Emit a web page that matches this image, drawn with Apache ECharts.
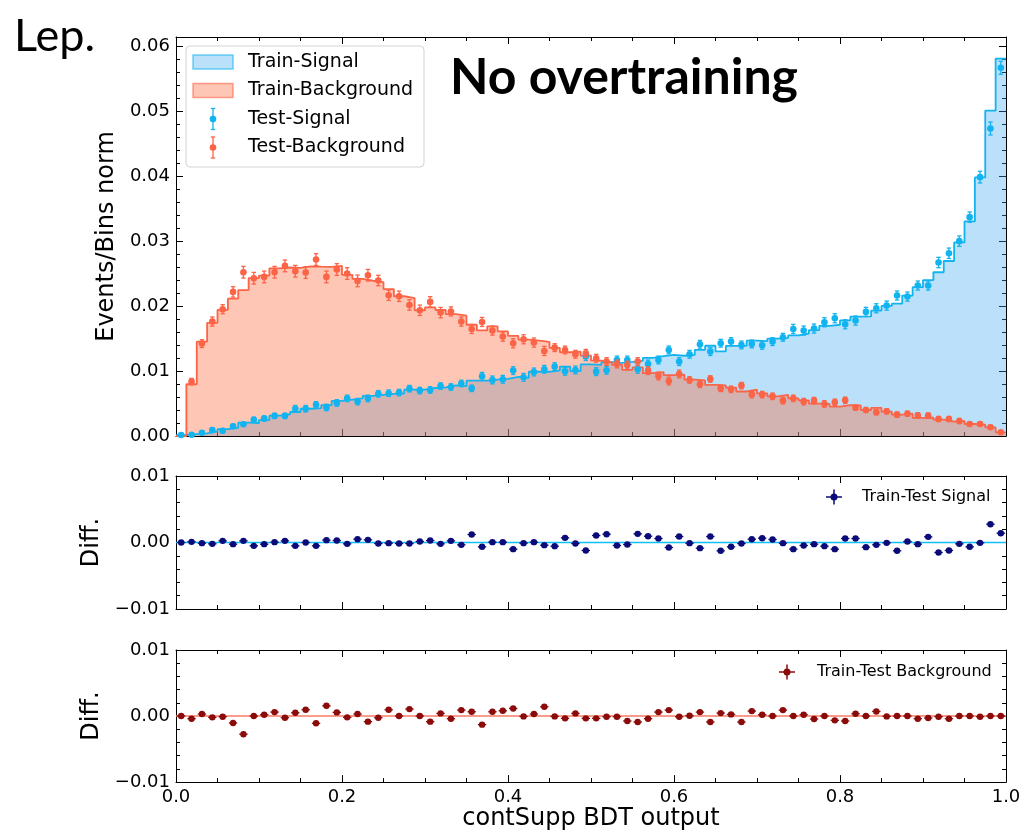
<!DOCTYPE html>
<html>
<head>
    <meta charset="utf-8">
    <title>contSupp BDT output - overtraining check</title>
    <script src="https://cdn.jsdelivr.net/npm/echarts@6/dist/echarts.min.js"></script>
    <style>
        html, body { margin: 0; padding: 0; background: #fff; }
        #chart { width: 1024px; height: 832px; }
    </style>
</head>
<body>
<div id="chart"></div>
<script>
    // 80 bins on [0, 1]
    var nBins = 80;
    var binW = 1 / nBins;

    var trainSig = [0.00015, 0.0003, 0.0004, 0.0007, 0.00105, 0.00125, 0.00205, 0.0020, 0.00245, 0.00315,
        0.00335, 0.0037, 0.0042, 0.0043, 0.00475, 0.0054, 0.0056, 0.0058, 0.0062, 0.00635,
        0.0065, 0.00655, 0.00715, 0.00715, 0.0074, 0.0075, 0.0078, 0.0077, 0.00855, 0.00855,
        0.0087, 0.0088, 0.0091, 0.00895, 0.0099, 0.0099, 0.0101, 0.0107, 0.0100, 0.01104,
        0.01097, 0.01138, 0.01127, 0.01142, 0.01158, 0.01205, 0.01232, 0.01251, 0.01237, 0.0125,
        0.01329, 0.01391, 0.01305, 0.0139, 0.01389, 0.01469, 0.01463, 0.015, 0.01512, 0.0155,
        0.0158, 0.01631, 0.01698, 0.01715, 0.01782, 0.01839, 0.01843, 0.01934, 0.02005, 0.0204,
        0.02164, 0.02294, 0.02404, 0.02524, 0.02697, 0.02983, 0.03308, 0.03985, 0.05015, 0.05816];

    var testSig = [0.00015, 0.0002, 0.0005, 0.0009, 0.0008, 0.0015, 0.0018, 0.0025, 0.0027, 0.0031,
        0.0031, 0.0042, 0.0042, 0.0048, 0.0044, 0.0051, 0.0058, 0.0053, 0.0058, 0.0065,
        0.0066, 0.0067, 0.0073, 0.0070, 0.0071, 0.0077, 0.00755, 0.0081, 0.00735, 0.0092,
        0.00864, 0.00874, 0.01008, 0.00905, 0.00987, 0.01028, 0.01069, 0.00997, 0.01018, 0.01224,
        0.00992, 0.01013, 0.01172, 0.01172, 0.01028, 0.0111, 0.01172, 0.01326, 0.01147, 0.0126,
        0.01414, 0.01301, 0.0143, 0.01455, 0.01404, 0.01419, 0.01398, 0.01455, 0.01522, 0.0165,
        0.01625, 0.01656, 0.01753, 0.01815, 0.01722, 0.01779, 0.01913, 0.01969, 0.0201, 0.02165,
        0.02149, 0.02319, 0.02319, 0.02674, 0.02817, 0.03003, 0.03373, 0.0399, 0.0474, 0.05676];

    var sigErr = [0.0001, 0.0002, 0.0002, 0.0003, 0.0003, 0.0003, 0.0003, 0.0004, 0.0004, 0.0004,
        0.0004, 0.0005, 0.0005, 0.0005, 0.0005, 0.0005, 0.0005, 0.0005, 0.0005, 0.0005,
        0.0005, 0.0005, 0.0005, 0.0005, 0.0005, 0.0005, 0.0005, 0.0005, 0.0005, 0.0006,
        0.0006, 0.0006, 0.0006, 0.0006, 0.0006, 0.0006, 0.0006, 0.0006, 0.0006, 0.0006,
        0.0006, 0.0006, 0.0006, 0.0006, 0.0006, 0.0006, 0.0006, 0.0006, 0.0006, 0.0006,
        0.0006, 0.0006, 0.0006, 0.0006, 0.0006, 0.0006, 0.0006, 0.0006, 0.0006, 0.0007,
        0.0007, 0.0007, 0.0007, 0.0007, 0.0007, 0.0007, 0.0007, 0.0007, 0.0007, 0.0007,
        0.0007, 0.0007, 0.0007, 0.0008, 0.0008, 0.0008, 0.0008, 0.0009, 0.0010, 0.0010];

    var diffSig = [0, 0.0001, -0.0001, -0.0002, 0.00025, -0.00025, 0.00025, -0.0005, -0.00025, 0.00005,
        0.00025, -0.0005, 0, -0.0005, 0.00035, 0.0003, -0.0002, 0.0005, 0.0004, -0.00015,
        -0.0001, -0.00015, -0.00015, 0.00015, 0.0003, -0.0002, 0.00025, -0.00035, 0.0012, -0.00065,
        0.00005, 0.00005, -0.001, -0.0001, 0.00005, -0.0004, -0.00055, 0.0007, -0.00015, -0.0012,
        0.00105, 0.00125, -0.00045, -0.0003, 0.0013, 0.00095, 0.0006, -0.00075, 0.0009, -0.0001,
        -0.00085, 0.0009, -0.00125, -0.00065, -0.00015, 0.0005, 0.00065, 0.00045, -0.0001, -0.001,
        -0.00045, -0.00025, -0.00055, -0.001, 0.0006, 0.0006, -0.0007, -0.00035, -0.00005, -0.00125,
        0.00015, -0.00025, 0.00085, -0.0015, -0.0012, -0.0002, -0.00065, -0.00005, 0.00275, 0.0014];

    var trainBkg = [0, 0.00798, 0.01454, 0.01744, 0.01944, 0.02116, 0.02249, 0.02432, 0.02472, 0.02584,
        0.02597, 0.0259, 0.02614, 0.0261, 0.02607, 0.02621, 0.02484, 0.02421, 0.02393, 0.02371,
        0.02265, 0.02154, 0.02125, 0.01938, 0.01982, 0.01942, 0.0188, 0.01854, 0.01715, 0.01628,
        0.0169, 0.01612, 0.01544, 0.01486, 0.0147, 0.01451, 0.01357, 0.01291, 0.013, 0.0124,
        0.01163, 0.01137, 0.011, 0.0102, 0.01057, 0.00968, 0.00985, 0.00938, 0.00946, 0.00869,
        0.00857, 0.00789, 0.0078, 0.00745, 0.00686, 0.00713, 0.00658, 0.00612, 0.00635, 0.00581,
        0.0055, 0.005, 0.00494, 0.00454, 0.00475, 0.00472, 0.00401, 0.00435, 0.00375, 0.00329,
        0.00344, 0.00279, 0.00284, 0.00252, 0.00222, 0.00231, 0.00185, 0.00175, 0.00134, 0.00057];

    var testBkg = [null, 0.00838, 0.01424, 0.01764, 0.01954, 0.02221, 0.02524, 0.02432, 0.02452, 0.02524,
        0.02622, 0.0254, 0.02519, 0.0272, 0.02452, 0.02566, 0.02504, 0.02391, 0.02478, 0.02396,
        0.0217, 0.02154, 0.0202, 0.01938, 0.02067, 0.01902, 0.0192, 0.01764, 0.0165, 0.01758,
        0.01625, 0.01532, 0.01429, 0.01491, 0.0144, 0.01311, 0.01362, 0.01326, 0.0126, 0.01275,
        0.01198, 0.01147, 0.0111, 0.01095, 0.01147, 0.01008, 0.00925, 0.00848, 0.00956, 0.00864,
        0.00797, 0.00879, 0.00735, 0.0072, 0.00776, 0.00638, 0.00638, 0.00612, 0.00545, 0.00581,
        0.0053, 0.00545, 0.00494, 0.00519, 0.0055, 0.00437, 0.00401, 0.00365, 0.0038, 0.00329,
        0.00344, 0.00319, 0.00314, 0.00262, 0.00262, 0.00231, 0.00185, 0.00185, 0.00134, 0.00057];

    var bkgErr = [0, 0.0005, 0.0006, 0.0007, 0.0007, 0.0008, 0.0009, 0.0009, 0.0009, 0.0009,
        0.0009, 0.0009, 0.0009, 0.0009, 0.0009, 0.0009, 0.0009, 0.0009, 0.0009, 0.0008,
        0.0008, 0.0008, 0.0008, 0.0008, 0.0008, 0.0008, 0.0007, 0.0007, 0.0007, 0.0007,
        0.0007, 0.0007, 0.0007, 0.0007, 0.0007, 0.0007, 0.0006, 0.0006, 0.0006, 0.0006,
        0.0006, 0.0006, 0.0006, 0.0006, 0.0006, 0.0006, 0.0006, 0.0006, 0.0006, 0.0005,
        0.0005, 0.0005, 0.0005, 0.0005, 0.0005, 0.0005, 0.0005, 0.0005, 0.0005, 0.0005,
        0.0005, 0.0005, 0.0005, 0.0005, 0.0005, 0.0004, 0.0004, 0.0004, 0.0004, 0.0004,
        0.0004, 0.0004, 0.0004, 0.0004, 0.0004, 0.0004, 0.0003, 0.0003, 0.0003, 0.0002];

    var diffBkg = [0, -0.0004, 0.0003, -0.0002, -0.0001, -0.00105, -0.00275, 0, 0.0002, 0.0006,
        -0.00025, 0.0005, 0.00095, -0.0011, 0.00155, 0.00055, -0.0002, 0.0003, -0.00085, -0.00025,
        0.00095, 0, 0.00105, 0, -0.00085, 0.0004, -0.0004, 0.0009, 0.00065, -0.0013,
        0.00065, 0.0008, 0.00115, -0.00005, 0.0003, 0.0014, -0.00005, -0.00035, 0.0004, -0.00035,
        -0.00035, -0.0001, -0.0001, -0.00075, -0.0009, -0.0004, 0.0006, 0.0009, -0.0001, 0.00005,
        0.0006, -0.0009, 0.00045, 0.00025, -0.0009, 0.00075, 0.0002, 0, 0.0009, 0,
        0.0002, -0.00045, 0, -0.00065, -0.00075, 0.00035, 0, 0.0007, -0.00005, 0,
        0, -0.0004, -0.0003, -0.0001, -0.0004, 0, 0, -0.0001, 0, 0];

    var sigColor = '#12b4f0',
        bkgColor = '#fb6446',
        sigFill = 'rgba(60,165,240,0.35)',
        bkgFill = 'rgba(250,105,60,0.38)',
        diffSigColor = '#0a0a78',
        diffBkgColor = '#8b0a0a';
    var font = 'DejaVu Sans';

    // histogram outline: left edge of each bin, plus closing point at x = 1
    function stepData(vals) {
        var out = [];
        for (var k = 0; k < vals.length; k++) out.push([k * binW, vals[k]]);
        out.push([1, vals[vals.length - 1]]);
        return out;
    }
    function pointData(vals, errs) {
        var out = [];
        for (var k = 0; k < vals.length; k++) {
            if (vals[k] === null) continue;
            out.push([(k + 0.5) * binW, vals[k], errs ? errs[k] : 0]);
        }
        return out;
    }

    function errPoint(params, api) {
        var x = api.value(0), y = api.value(1), e = api.value(2);
        var c = api.coord([x, y]);
        var hi = api.coord([x, y + e]), lo = api.coord([x, y - e]);
        var col = api.visual('color');
        var st = {stroke: col, lineWidth: 1.3};
        return {
            type: 'group',
            children: [
                {type: 'line', shape: {x1: c[0], y1: hi[1], x2: c[0], y2: lo[1]}, style: st},
                {type: 'line', shape: {x1: c[0] - 2.2, y1: hi[1], x2: c[0] + 2.2, y2: hi[1]}, style: st},
                {type: 'line', shape: {x1: c[0] - 2.2, y1: lo[1], x2: c[0] + 2.2, y2: lo[1]}, style: st},
                {type: 'circle', shape: {cx: c[0], cy: c[1], r: 3.3}, style: {fill: col}}
            ]
        };
    }
    function diffPoint(params, api) {
        var x = api.value(0), y = api.value(1);
        var c = api.coord([x, y]);
        var l = api.coord([x - binW / 2, y]), r = api.coord([x + binW / 2, y]);
        var col = api.visual('color');
        return {
            type: 'group',
            children: [
                {type: 'line', shape: {x1: l[0] + 1, y1: c[1], x2: r[0] - 1, y2: c[1]}, style: {stroke: col, lineWidth: 1.3}},
                {type: 'circle', shape: {cx: c[0], cy: c[1], r: 3.2}, style: {fill: col}}
            ]
        };
    }

    var tickStyle = {color: '#000', width: 1};
    function xAx(grid, pos, showLabels) {
        return {
            type: 'value', gridIndex: grid, position: pos, min: 0, max: 1, interval: 0.2,
            axisLine: {show: true, onZero: false, lineStyle: tickStyle},
            axisTick: {show: true, inside: true, length: 7, lineStyle: tickStyle},
            minorTick: {show: true, splitNumber: 4, length: 4, lineStyle: tickStyle},
            splitLine: {show: false},
            axisLabel: {
                show: showLabels, margin: 6, color: '#000', fontFamily: font, fontSize: 18,
                formatter: function (v) { return v.toFixed(1); }
            }
        };
    }
    function yAx(grid, pos, min, max, showLabels, name, gap) {
        return {
            type: 'value', gridIndex: grid, position: pos, min: min, max: max, interval: 0.01,
            name: showLabels ? name : '', nameLocation: 'middle', nameGap: gap,
            nameTextStyle: {color: '#000', fontFamily: font, fontSize: 24},
            axisLine: {show: true, onZero: false, lineStyle: tickStyle},
            axisTick: {show: true, inside: true, length: 7, lineStyle: tickStyle},
            minorTick: {show: true, splitNumber: 5, length: 4, lineStyle: tickStyle},
            splitLine: {show: false},
            axisLabel: {
                show: showLabels, margin: 6, color: '#000', fontFamily: font, fontSize: 18,
                formatter: function (v) {
                    if (Math.abs(v * 100 - Math.round(v * 100)) > 1e-6) return '';
                    return v.toFixed(2).replace('-', '\u2212');
                }
            }
        };
    }

    var grids = [
        {left: 176, right: 18, top: 37, height: 399},
        {left: 176, right: 18, top: 476, height: 133},
        {left: 176, right: 18, top: 650, height: 133}
    ];

    var xAxes = [
        xAx(0, 'bottom', false), xAx(0, 'top', false),
        xAx(1, 'bottom', false), xAx(1, 'top', false),
        xAx(2, 'bottom', true), xAx(2, 'top', false)
    ];
    xAxes[4].name = 'contSupp BDT output';
    xAxes[4].nameLocation = 'middle';
    xAxes[4].nameGap = 21;
    xAxes[4].nameTextStyle = {color: '#000', fontFamily: font, fontSize: 24};

    var yAxes = [
        yAx(0, 'left', 0, 0.0615, true, 'Events/Bins norm', 51), yAx(0, 'right', 0, 0.0615, false),
        yAx(1, 'left', -0.01, 0.01, true, 'Diff.', 67), yAx(1, 'right', -0.01, 0.01, false),
        yAx(2, 'left', -0.01, 0.01, true, 'Diff.', 67), yAx(2, 'right', -0.01, 0.01, false)
    ];

    function errGlyph(cx, cy, col) {
        var st = {stroke: col, lineWidth: 1.3};
        return {
            type: 'group', silent: true,
            children: [
                {type: 'line', shape: {x1: cx, y1: cy - 10.5, x2: cx, y2: cy + 10.5}, style: st},
                {type: 'line', shape: {x1: cx - 2.2, y1: cy - 10.5, x2: cx + 2.2, y2: cy - 10.5}, style: st},
                {type: 'line', shape: {x1: cx - 2.2, y1: cy + 10.5, x2: cx + 2.2, y2: cy + 10.5}, style: st},
                {type: 'circle', shape: {cx: cx, cy: cy, r: 3.3}, style: {fill: col}}
            ]
        };
    }
    function crossGlyph(cx, cy, col) {
        var st = {stroke: col, lineWidth: 1.5};
        return {
            type: 'group', silent: true,
            children: [
                {type: 'line', shape: {x1: cx - 8, y1: cy, x2: cx + 8, y2: cy}, style: st},
                {type: 'line', shape: {x1: cx, y1: cy - 7.5, x2: cx, y2: cy + 7.5}, style: st},
                {type: 'circle', shape: {cx: cx, cy: cy, r: 3.5}, style: {fill: col}}
            ]
        };
    }
    function label(x, y, text, size, extra) {
        var st = {x: x, y: y, text: text, fill: '#000', font: size + 'px "' + font + '"',
            align: 'left', verticalAlign: 'middle'};
        for (var key in extra) st[key] = extra[key];
        return {type: 'text', silent: true, style: st};
    }

    var graphics = [
        label(14, 36, 'Lep.', 45, {font: '45px Lato'}),
        label(450, 78, 'No overtraining', 50, {font: 'bold 50px Lato'}),
        {type: 'rect', silent: true, shape: {x: 186, y: 46, width: 238, height: 121, r: 4},
            style: {fill: 'rgba(255,255,255,0.8)', stroke: '#d3d3d3', lineWidth: 1}},
        {type: 'rect', silent: true, shape: {x: 193, y: 55, width: 40, height: 14},
            style: {fill: sigFill, stroke: 'rgba(18,180,240,0.6)', lineWidth: 1.5}},
        {type: 'rect', silent: true, shape: {x: 193, y: 83.5, width: 40, height: 14},
            style: {fill: bkgFill, stroke: 'rgba(251,100,70,0.6)', lineWidth: 1.5}},
        errGlyph(213, 119, sigColor),
        errGlyph(213, 147.5, bkgColor),
        label(248, 62, 'Train-Signal', 19),
        label(248, 90.5, 'Train-Background', 19),
        label(248, 119, 'Test-Signal', 19),
        label(248, 147.5, 'Test-Background', 19),
        crossGlyph(834, 497, diffSigColor),
        label(862, 497, 'Train-Test Signal', 16),
        crossGlyph(787, 672, diffBkgColor),
        label(817, 672, 'Train-Test Background', 16)
    ];

    var chart = echarts.init(document.getElementById('chart'), null, {renderer: 'canvas'});
    chart.setOption({
        animation: false,
        backgroundColor: '#fff',
        grid: grids,
        xAxis: xAxes,
        yAxis: yAxes,
        graphic: graphics,
        series: [
            {
                name: 'Train-Signal', type: 'line', xAxisIndex: 0, yAxisIndex: 0, step: 'end', z: 1,
                data: stepData(trainSig), symbol: 'none', silent: true,
                lineStyle: {width: 0, opacity: 0}, areaStyle: {color: sigFill, opacity: 1}
            },
            {
                name: 'Train-Background', type: 'line', xAxisIndex: 0, yAxisIndex: 0, step: 'end', z: 1,
                data: stepData(trainBkg), symbol: 'none', silent: true,
                lineStyle: {width: 0, opacity: 0}, areaStyle: {color: bkgFill, opacity: 1}
            },
            {
                name: 'Train-Signal line', type: 'line', xAxisIndex: 0, yAxisIndex: 0, step: 'end', z: 3,
                data: stepData(trainSig), symbol: 'none', silent: true,
                lineStyle: {color: sigColor, width: 1.8}
            },
            {
                name: 'Train-Background line', type: 'line', xAxisIndex: 0, yAxisIndex: 0, step: 'end', z: 3,
                data: stepData(trainBkg), symbol: 'none', silent: true,
                lineStyle: {color: bkgColor, width: 1.8}
            },
            {
                name: 'Test-Signal', type: 'custom', xAxisIndex: 0, yAxisIndex: 0, z: 5,
                renderItem: errPoint, data: pointData(testSig, sigErr),
                itemStyle: {color: sigColor}, encode: {x: 0, y: 1}
            },
            {
                name: 'Test-Background', type: 'custom', xAxisIndex: 0, yAxisIndex: 0, z: 6,
                renderItem: errPoint, data: pointData(testBkg, bkgErr),
                itemStyle: {color: bkgColor}, encode: {x: 0, y: 1}
            },
            {
                name: 'zero signal', type: 'line', xAxisIndex: 2, yAxisIndex: 2,
                data: [[0, 0], [1, 0]], symbol: 'none', silent: true,
                lineStyle: {color: '#10c0f8', width: 1.5}
            },
            {
                name: 'Train-Test Signal', type: 'custom', xAxisIndex: 2, yAxisIndex: 2, z: 5,
                renderItem: diffPoint, data: pointData(diffSig),
                itemStyle: {color: diffSigColor}, encode: {x: 0, y: 1}
            },
            {
                name: 'zero background', type: 'line', xAxisIndex: 4, yAxisIndex: 4,
                data: [[0, 0], [1, 0]], symbol: 'none', silent: true,
                lineStyle: {color: '#fa7a64', width: 1.5}
            },
            {
                name: 'Train-Test Background', type: 'custom', xAxisIndex: 4, yAxisIndex: 4, z: 5,
                renderItem: diffPoint, data: pointData(diffBkg),
                itemStyle: {color: diffBkgColor}, encode: {x: 0, y: 1}
            }
        ]
    });
</script>
</body>
</html>
